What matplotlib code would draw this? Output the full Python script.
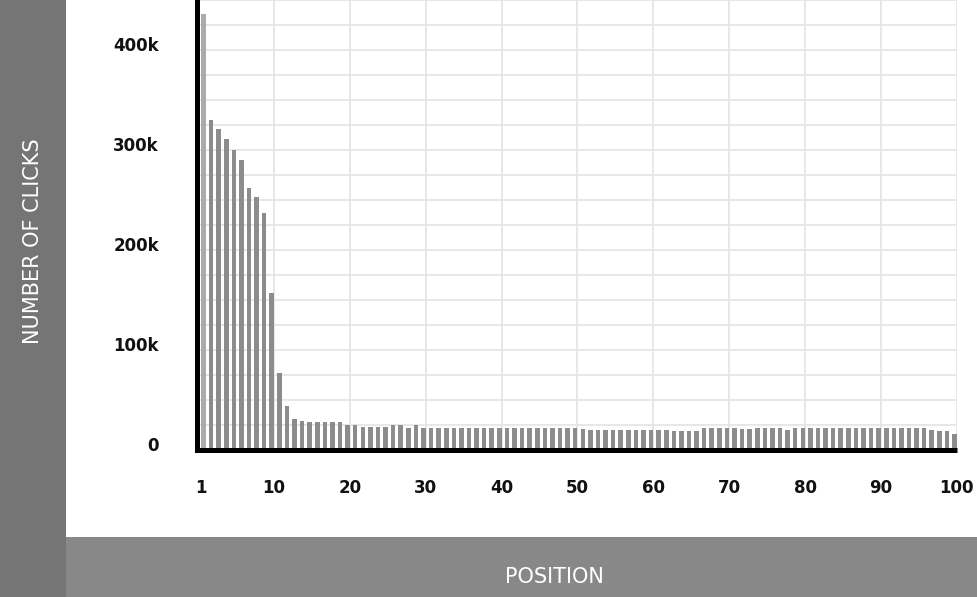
import matplotlib
matplotlib.use("Agg")
import matplotlib.pyplot as plt
from matplotlib.patches import Rectangle
from matplotlib.transforms import ScaledTranslation

# clicks (in thousands) per search result position 1..100
positions = list(range(1, 101))
clicks_k = [
    436, 330, 321, 311, 300, 290, 262, 253, 237, 157,
    77, 44, 31.5, 29, 28, 28, 28, 28, 28, 24.7,
    24.7, 22.7, 22.7, 22.7, 22.7, 25, 25, 22.4, 25, 22,
    22, 22, 22, 22, 22, 22, 22, 22, 22, 22,
    22, 22, 22, 22, 22, 22, 22, 22, 22, 22,
    21.5, 19.7, 19.7, 19.7, 19.7, 19.7, 19.7, 19.7, 19.7, 19.7,
    19.7, 19.7, 19, 19, 19, 19, 22, 22, 22, 22,
    22, 21.4, 21.4, 22.4, 22.4, 22.4, 22.4, 20.4, 22.4, 22.4,
    22.4, 22.4, 22.4, 22.4, 22.4, 22.4, 22.4, 22.4, 22.4, 22.4,
    22.4, 22.4, 22.4, 22.4, 22.4, 22.4, 19.7, 18.7, 18.7, 16.4,
]
clicks = [c * 1000 for c in clicks_k]

x_tick_values = [1, 10, 20, 30, 40, 50, 60, 70, 80, 90, 100]
y_tick_values = [0, 100000, 200000, 300000, 400000]
y_tick_labels = ["0", "100k", "200k", "300k", "400k"]

BAR = "#8c8c8c"
GRID = "#e5e5e5"

fig = plt.figure(figsize=(9.77, 5.97), dpi=100)
fig.patch.set_facecolor("white")

# grey side / bottom bands
fig.patches.append(Rectangle((0, 0), 66 / 977, 1, transform=fig.transFigure,
                             facecolor="#757575", edgecolor="none", zorder=0))
fig.patches.append(Rectangle((66 / 977, 0), 1 - 66 / 977, 60 / 597,
                             transform=fig.transFigure,
                             facecolor="#888888", edgecolor="none", zorder=0))

ax = fig.add_axes([196.5 / 977, 147 / 597, (957 - 196.5) / 977, 450 / 597])

colors = [BAR] * len(clicks)
colors[0] = "#ababab"
ax.bar(positions, clicks, width=0.6, color=colors, zorder=2)

ax.set_xlim(0.077, 100.33)
ax.set_ylim(0, 450000)

# labels & grid (minor ticks carry the grid lines)
ax.xaxis.remove_overlapping_locs = False
ax.yaxis.remove_overlapping_locs = False
ax.set_xticks([v + (0.3 if v > 1 else -0.3) for v in x_tick_values])
ax.set_xticklabels([str(v) for v in x_tick_values], fontweight="bold")
ax.set_xticks([v + 0.3 for v in x_tick_values[1:]], minor=True)
ax.set_yticks(y_tick_values)
ax.set_yticklabels(y_tick_labels, fontweight="bold")
ax.set_yticks(list(range(0, 450001, 25000)), minor=True)

ax.set_axisbelow(True)
ax.grid(False)
ax.grid(which="minor", axis="both", color=GRID, linewidth=1.3, zorder=0)

ax.tick_params(which="both", length=0)
ax.tick_params(axis="y", pad=27, labelsize=12, labelcolor="#111111")
ax.tick_params(axis="x", pad=21, labelsize=12, labelcolor="#111111")
for lab in ax.get_yticklabels():
    lab.set_transform(lab.get_transform() +
                      ScaledTranslation(0, 6 / 100, fig.dpi_scale_trans))

for side in ("top", "right"):
    ax.spines[side].set_visible(False)
for side in ("left", "bottom"):
    ax.spines[side].set_linewidth(3.6)
    ax.spines[side].set_color("black")
ax.spines["left"].set_capstyle("projecting")
ax.spines["bottom"].set_capstyle("butt")

fig.text(33 / 977, 1 - 241 / 597, "NUMBER OF CLICKS", rotation=90,
         color="white", fontsize=15, ha="center", va="center")
fig.text(554 / 977, 1 - 577 / 597, "POSITION", color="white", fontsize=15,
         ha="center", va="center")

fig.savefig("out.png", dpi=100, facecolor=fig.get_facecolor())
